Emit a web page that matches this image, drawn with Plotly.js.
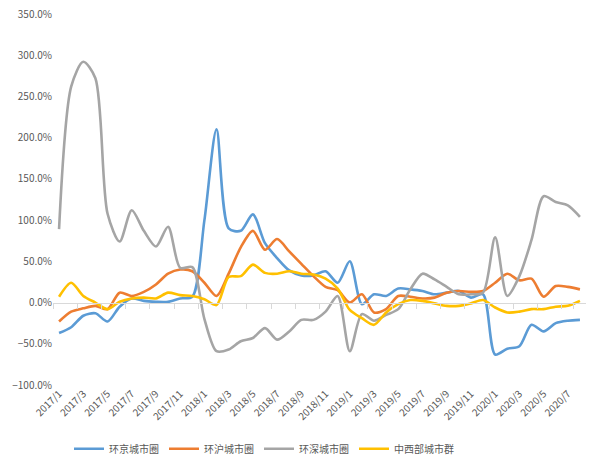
<!DOCTYPE html>
<html>
<head>
<meta charset="utf-8">
<script src="https://cdn.plot.ly/plotly-3.0.1.min.js"></script>
<style>
  html, body { margin: 0; padding: 0; background: #fff; }
  #chart { width: 600px; height: 468px; }
</style>
</head>
<body>
<div id="chart"></div>
<script>
const months = [
  "2017/1", "2017/2", "2017/3", "2017/4", "2017/5", "2017/6", "2017/7", "2017/8", "2017/9", "2017/10", "2017/11", "2017/12",
  "2018/1", "2018/2", "2018/3", "2018/4", "2018/5", "2018/6", "2018/7", "2018/8", "2018/9", "2018/10", "2018/11", "2018/12",
  "2019/1", "2019/2", "2019/3", "2019/4", "2019/5", "2019/6", "2019/7", "2019/8", "2019/9", "2019/10", "2019/11", "2019/12",
  "2020/1", "2020/2", "2020/3", "2020/4", "2020/5", "2020/6", "2020/7", "2020/8"
];

const tickLabels = [
  "2017/1", "2017/3", "2017/5", "2017/7", "2017/9", "2017/11",
  "2018/1", "2018/3", "2018/5", "2018/7", "2018/9", "2018/11",
  "2019/1", "2019/3", "2019/5", "2019/7", "2019/9", "2019/11",
  "2020/1", "2020/3", "2020/5", "2020/7"
];

// 同比增速, %
const beijingRing = [
  -37, -30, -16, -13, -23, -5, 5, 2, 1, 1, 5, 7,
  100, 210, 90, 87, 107, 72, 54, 39, 33, 33, 38, 24,
  50, -2, 10, 8, 17, 16, 14, 10, 12, 14, 6, 10,
  -63, -56, -53, -27, -35, -25, -22, -21
];

const shanghaiRing = [
  -23, -11, -7, -4, -8, 12, 8, 13, 22, 35, 40, 38,
  24, 8, 35, 67, 87, 64, 77, 62, 47, 32, 19, 15,
  0, 10, -12, -8, 8, 7, 5, 6, 12, 14, 13, 14,
  24, 35, 27, 29, 7, 20, 19, 16
];

const shenzhenRing = [
  89, 262, 292, 272, 108, 74, 112, 87, 68, 92, 42, 43,
  -20, -59, -57, -47, -43, -31, -45, -35, -21, -21, -11, 8,
  -59, -14, -22, -15, -8, 16, 35, 28, 19, 10, 10, 12,
  79, 8, 32, 76, 129, 122, 118, 104
];

const midwestCluster = [
  7, 24, 8, 0, -8, 1, 5, 6, 5, 12, 9, 8,
  4, -3, 31, 32, 46, 36, 35, 38, 35, 34, 29, 17,
  -9, -19, -27, -12, -2, 3, 2, -1, -4, -4, -1, 3,
  -6, -12, -11, -8, -8, -5, -4, 2
];

const seriesNames = ["环京城市圈", "环沪城市圈", "环深城市圈", "中西部城市群"];
const seriesColors = ["#5b9bd5", "#ed7d31", "#a5a5a5", "#ffc000"];

const fontFamily = '"Noto Sans CJK SC", "Noto Sans", sans-serif';
const yRange = [-100, 350];

function buildTrace(y, i) {
  return {
    x: months,
    y,
    name: seriesNames[i],
    type: "scatter",
    mode: "lines",
    line: { color: seriesColors[i], width: 2.6, shape: "spline", smoothing: 0.8 },
    hovertemplate: "%{x}: %{y:.1f}%<extra>" + seriesNames[i] + "</extra>"
  };
}

const traces = [beijingRing, shanghaiRing, shenzhenRing, midwestCluster].map(buildTrace);

// empty helper trace so the zero-crossing axis (xaxis2) gets drawn
traces.unshift({
  x: [],
  y: [],
  xaxis: "x2",
  yaxis: "y",
  type: "scatter",
  mode: "lines",
  showlegend: false,
  hoverinfo: "skip"
});

const zeroPos = (0 - yRange[0]) / (yRange[1] - yRange[0]);

Plotly.newPlot("chart", traces, {
  width: 600,
  height: 468,
  margin: { t: 14, r: 14, l: 53, b: 83 },
  paper_bgcolor: "#fff",
  plot_bgcolor: "#fff",
  font: { family: fontFamily, size: 10, color: "#595959" },
  showlegend: true,
  legend: {
    orientation: "h",
    xref: "container",
    yref: "container",
    x: 0.44,
    xanchor: "center",
    y: 0.041,
    yanchor: "middle",
    itemwidth: 30,
    font: { size: 10, color: "#595959" }
  },
  xaxis: {
    type: "category",
    range: [-0.5, months.length - 0.5],
    tickvals: tickLabels,
    ticktext: tickLabels,
    tickangle: -45,
    ticks: "",
    showline: false,
    showgrid: false,
    zeroline: false,
    tickfont: { size: 10, color: "#595959" }
  },
  xaxis2: {
    type: "category",
    categoryarray: months,
    range: [-0.5, months.length - 0.5],
    overlaying: "x",
    anchor: "free",
    position: zeroPos,
    tickvals: tickLabels,
    tickson: "boundaries",
    ticks: "outside",
    ticklen: 5,
    tickcolor: "#d9d9d9",
    showticklabels: false,
    showline: true,
    linecolor: "#d9d9d9",
    linewidth: 1,
    showgrid: false,
    zeroline: false
  },
  yaxis: {
    range: yRange,
    dtick: 50,
    tickformat: ".1f",
    ticksuffix: "%",
    showgrid: false,
    zeroline: false,
    showline: false,
    tickfont: { size: 10, color: "#595959" }
  }
}, { displayModeBar: false });
</script>
</body>
</html>
